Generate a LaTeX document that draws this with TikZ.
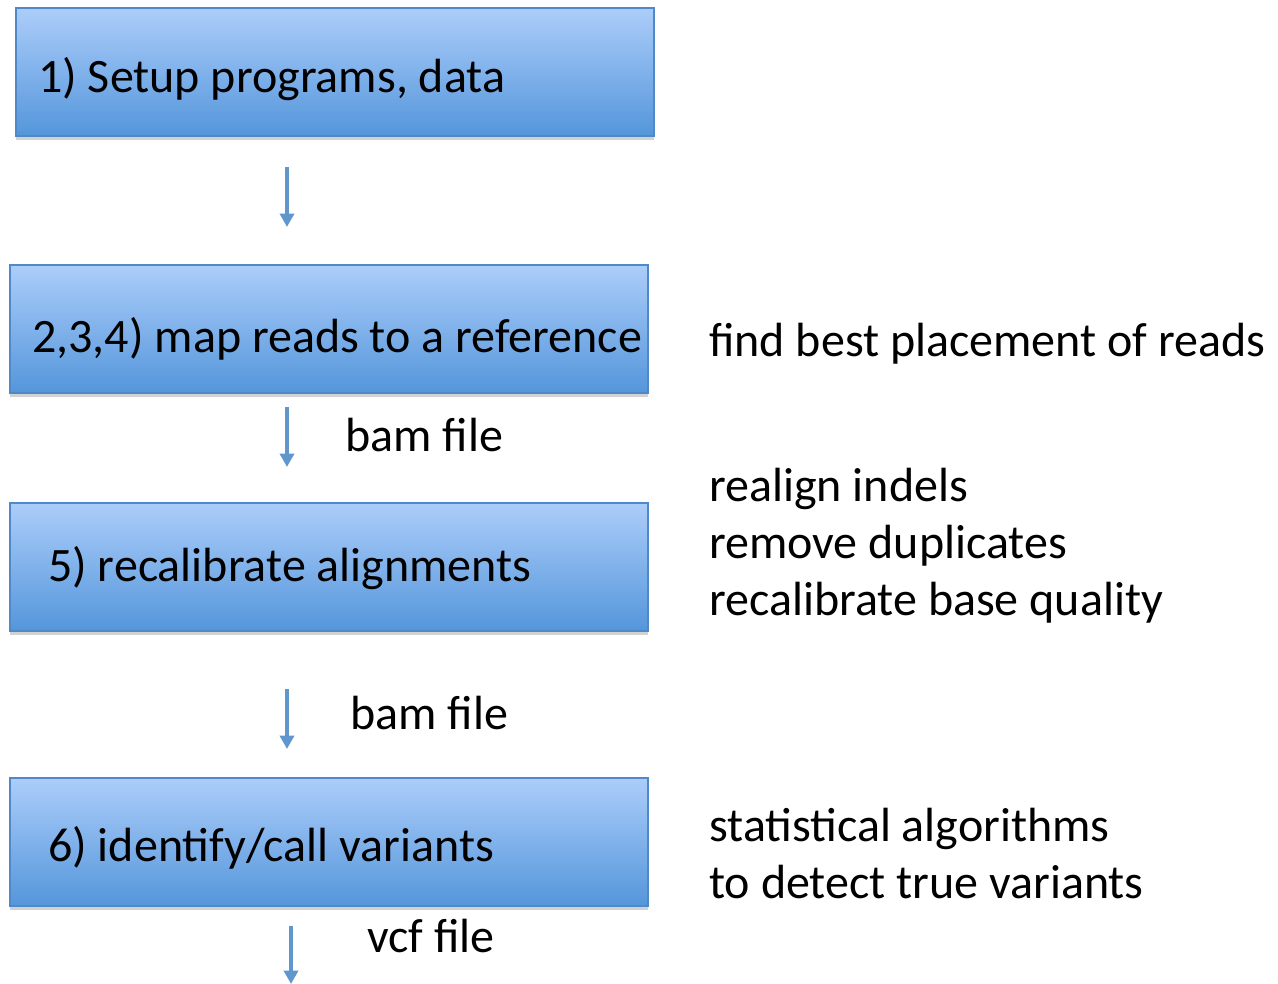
\documentclass[tikz,border=0pt]{standalone}
\usepackage{fontspec}
\setmainfont{Carlito}
\definecolor{boxtop}{RGB}{172,205,250}
\definecolor{boxbottom}{RGB}{84,150,219}
\definecolor{boxline}{RGB}{80,136,200}
\definecolor{arrowcolor}{RGB}{96,150,206}
\usetikzlibrary{arrows.meta,positioning,shadows}
\tikzset{
	stepbox/.style={
		rectangle,
		draw=boxline,
		line width=1.5pt,
		top color=boxtop,
		bottom color=boxbottom,
		minimum width=478.5pt,
		minimum height=96pt,
		anchor=north west,
		drop shadow={shadow xshift=0pt,shadow yshift=-3pt,opacity=.25,fill=black!70}
	},
	steptext/.style={
		inner sep=0pt,
		anchor=base west,
		font=\fontsize{36}{43}\selectfont
	},
	note/.style={
		inner sep=0pt,
		anchor=west,
		align=left,
		font=\fontsize{36}{42.75}\selectfont
	},
	arrow/.style={
		draw=arrowcolor,
		line width=3pt,
		-{Triangle[width=10.5pt,length=10pt]}
	},
}
\begin{document}
\begin{tikzpicture}[x=0.75pt,y=-0.75pt]
	\useasboundingbox (0,0) rectangle (1278,984);
	% the four steps
	\node[stepbox] (b1) at (15,7) {};
	\node[stepbox] (b2) at (9,264) {};
	\node[stepbox] (b3) at (9,502) {};
	\node[stepbox] (b4) at (9,777) {};
	\node[steptext] (t1) at ([shift={(23,86)}]b1.north west) {1) Setup programs, data};
	\node[steptext] (t2) at ([shift={(23,89)}]b2.north west) {2,3,4) map reads to a reference};
	\node[steptext] (t3) at ([shift={(39,79)}]b3.north west) {5) recalibrate alignments};
	\node[steptext] (t4) at ([shift={(39,84)}]b4.north west) {6) identify/call variants};
	% arrows between the steps
	\coordinate (a1s) at (287,167);
	\coordinate (a1e) at (287,227);
	\coordinate (a2s) at (287,407);
	\coordinate (a2e) at (287,467);
	\coordinate (a3s) at (287,689);
	\coordinate (a3e) at (287,749);
	\coordinate (a4s) at (291,926);
	\coordinate (a4e) at (291,984);
	\draw[arrow] (a1s) -- (a1e);
	\draw[arrow] (a2s) -- (a2e);
	\draw[arrow] (a3s) -- (a3e);
	\draw[arrow] (a4s) -- (a4e);
	\node[note] (f1) at (345,435) {bam file};
	\node[note] (f2) at (350,713) {bam file};
	\node[note] (f3) at (367,936) {vcf file};
	% notes on the right
	\node[note] (n1) at (709,344) {find best placement of reads};
	\node[note] (n2) at (709,546) {realign indels\\remove duplicates\\recalibrate base quality};
	\node[note] (n3) at (709,854) {statistical algorithms\\to detect true variants};
\end{tikzpicture}
\end{document}
